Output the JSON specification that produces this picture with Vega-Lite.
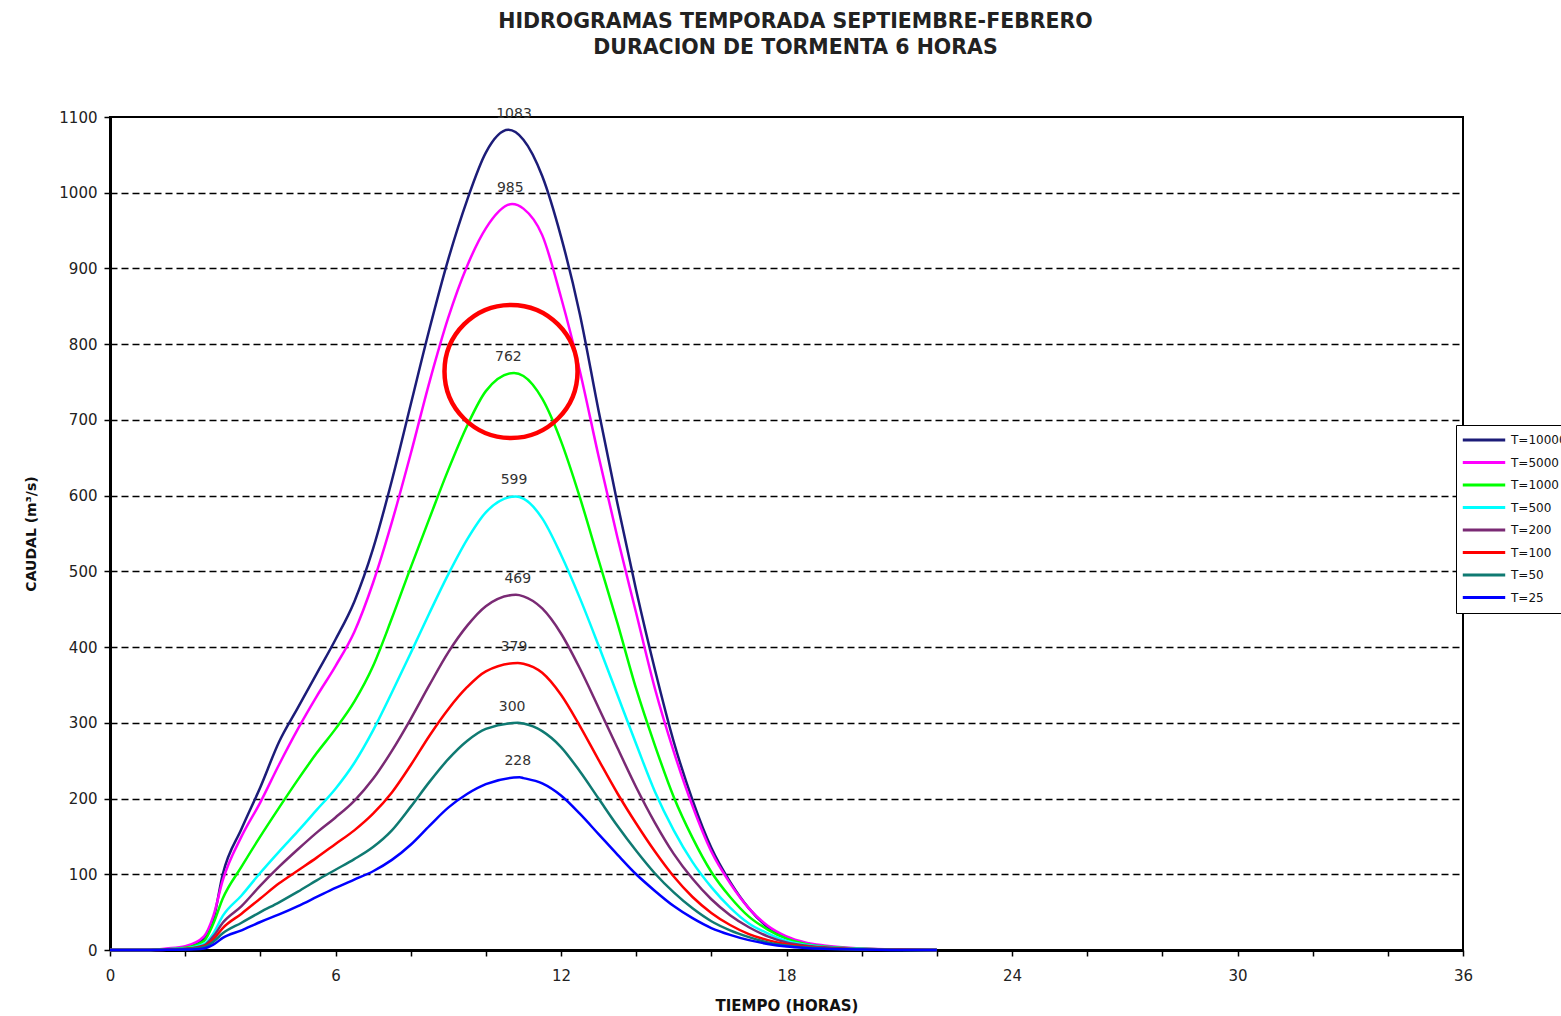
{
  "$schema": "https://vega.github.io/schema/vega-lite/v6.json",
  "autosize": "none",
  "width": 1353,
  "height": 833,
  "padding": {"left": 110, "top": 117, "right": 98, "bottom": 66},
  "background": "white",
  "title": {
    "text": ["HIDROGRAMAS TEMPORADA SEPTIEMBRE-FEBRERO", "DURACION DE TORMENTA 6 HORAS"],
    "font": "DejaVu Sans",
    "fontSize": 20.5,
    "fontWeight": "bold",
    "color": "#222222",
    "lineHeight": 26,
    "anchor": "middle",
    "dx": 9,
    "offset": 48
  },
  "config": {
    "view": {"stroke": "black", "strokeWidth": 2},
    "font": "DejaVu Sans"
  },
  "datasets": {
    "curves": [
      {"s":"T=10000","t":0,"q":0},{"s":"T=10000","t":1,"q":0},{"s":"T=10000","t":1.5,"q":1},{"s":"T=10000","t":2,"q":3},{"s":"T=10000","t":2.5,"q":15},{"s":"T=10000","t":2.75,"q":40},{"s":"T=10000","t":3,"q":100},{"s":"T=10000","t":3.5,"q":160},{"s":"T=10000","t":4,"q":215},{"s":"T=10000","t":4.5,"q":275},{"s":"T=10000","t":5,"q":320},{"s":"T=10000","t":5.5,"q":365},{"s":"T=10000","t":6,"q":410},{"s":"T=10000","t":6.5,"q":460},{"s":"T=10000","t":7,"q":530},{"s":"T=10000","t":7.5,"q":620},{"s":"T=10000","t":8,"q":720},{"s":"T=10000","t":8.5,"q":820},{"s":"T=10000","t":9,"q":912},{"s":"T=10000","t":9.5,"q":990},{"s":"T=10000","t":10,"q":1053},{"s":"T=10000","t":10.6,"q":1083},{"s":"T=10000","t":11,"q":1070},{"s":"T=10000","t":11.5,"q":1022},{"s":"T=10000","t":12,"q":942},{"s":"T=10000","t":12.5,"q":840},{"s":"T=10000","t":13,"q":712},{"s":"T=10000","t":13.5,"q":590},{"s":"T=10000","t":14,"q":475},{"s":"T=10000","t":14.5,"q":370},{"s":"T=10000","t":15,"q":275},{"s":"T=10000","t":15.5,"q":198},{"s":"T=10000","t":16,"q":135},{"s":"T=10000","t":16.5,"q":90},{"s":"T=10000","t":17,"q":55},{"s":"T=10000","t":17.5,"q":30},{"s":"T=10000","t":18,"q":16},{"s":"T=10000","t":18.5,"q":9},{"s":"T=10000","t":19,"q":5},{"s":"T=10000","t":20,"q":1.5},{"s":"T=10000","t":21,"q":0.3},{"s":"T=10000","t":22,"q":0},

      {"s":"T=5000","t":0,"q":0},{"s":"T=5000","t":1,"q":0},{"s":"T=5000","t":1.5,"q":2},{"s":"T=5000","t":2,"q":5},{"s":"T=5000","t":2.5,"q":18},{"s":"T=5000","t":2.75,"q":45},{"s":"T=5000","t":3,"q":92},{"s":"T=5000","t":3.5,"q":150},{"s":"T=5000","t":4,"q":195},{"s":"T=5000","t":4.5,"q":245},{"s":"T=5000","t":5,"q":292},{"s":"T=5000","t":5.5,"q":335},{"s":"T=5000","t":6,"q":375},{"s":"T=5000","t":6.5,"q":420},{"s":"T=5000","t":7,"q":485},{"s":"T=5000","t":7.5,"q":565},{"s":"T=5000","t":8,"q":655},{"s":"T=5000","t":8.5,"q":750},{"s":"T=5000","t":9,"q":835},{"s":"T=5000","t":9.5,"q":903},{"s":"T=5000","t":10,"q":953},{"s":"T=5000","t":10.7,"q":985},{"s":"T=5000","t":11,"q":979},{"s":"T=5000","t":11.5,"q":944},{"s":"T=5000","t":12,"q":862},{"s":"T=5000","t":12.5,"q":765},{"s":"T=5000","t":13,"q":652},{"s":"T=5000","t":13.5,"q":545},{"s":"T=5000","t":14,"q":445},{"s":"T=5000","t":14.5,"q":345},{"s":"T=5000","t":15,"q":262},{"s":"T=5000","t":15.5,"q":190},{"s":"T=5000","t":16,"q":130},{"s":"T=5000","t":16.5,"q":88},{"s":"T=5000","t":17,"q":55},{"s":"T=5000","t":17.5,"q":32},{"s":"T=5000","t":18,"q":18},{"s":"T=5000","t":18.5,"q":10},{"s":"T=5000","t":19,"q":6},{"s":"T=5000","t":20,"q":2},{"s":"T=5000","t":21,"q":0.5},{"s":"T=5000","t":22,"q":0},

      {"s":"T=1000","t":0,"q":0},{"s":"T=1000","t":1,"q":0},{"s":"T=1000","t":1.5,"q":1},{"s":"T=1000","t":2,"q":3},{"s":"T=1000","t":2.5,"q":12},{"s":"T=1000","t":2.75,"q":35},{"s":"T=1000","t":3,"q":68},{"s":"T=1000","t":3.5,"q":110},{"s":"T=1000","t":4,"q":150},{"s":"T=1000","t":4.5,"q":188},{"s":"T=1000","t":5,"q":225},{"s":"T=1000","t":5.5,"q":260},{"s":"T=1000","t":6,"q":292},{"s":"T=1000","t":6.5,"q":328},{"s":"T=1000","t":7,"q":375},{"s":"T=1000","t":7.5,"q":438},{"s":"T=1000","t":8,"q":505},{"s":"T=1000","t":8.5,"q":570},{"s":"T=1000","t":9,"q":634},{"s":"T=1000","t":9.5,"q":692},{"s":"T=1000","t":10,"q":738},{"s":"T=1000","t":10.75,"q":762},{"s":"T=1000","t":11,"q":758},{"s":"T=1000","t":11.5,"q":728},{"s":"T=1000","t":12,"q":672},{"s":"T=1000","t":12.5,"q":598},{"s":"T=1000","t":13,"q":515},{"s":"T=1000","t":13.5,"q":432},{"s":"T=1000","t":14,"q":345},{"s":"T=1000","t":14.5,"q":270},{"s":"T=1000","t":15,"q":202},{"s":"T=1000","t":15.5,"q":148},{"s":"T=1000","t":16,"q":103},{"s":"T=1000","t":16.5,"q":70},{"s":"T=1000","t":17,"q":44},{"s":"T=1000","t":17.5,"q":27},{"s":"T=1000","t":18,"q":15},{"s":"T=1000","t":18.5,"q":8},{"s":"T=1000","t":19,"q":4.5},{"s":"T=1000","t":20,"q":1.5},{"s":"T=1000","t":21,"q":0.3},{"s":"T=1000","t":22,"q":0},

      {"s":"T=500","t":0,"q":0},{"s":"T=500","t":1,"q":0},{"s":"T=500","t":1.5,"q":1},{"s":"T=500","t":2,"q":2},{"s":"T=500","t":2.5,"q":8},{"s":"T=500","t":2.75,"q":22},{"s":"T=500","t":3,"q":45},{"s":"T=500","t":3.5,"q":72},{"s":"T=500","t":4,"q":102},{"s":"T=500","t":4.5,"q":130},{"s":"T=500","t":5,"q":157},{"s":"T=500","t":5.5,"q":185},{"s":"T=500","t":6,"q":213},{"s":"T=500","t":6.5,"q":247},{"s":"T=500","t":7,"q":290},{"s":"T=500","t":7.5,"q":340},{"s":"T=500","t":8,"q":392},{"s":"T=500","t":8.5,"q":445},{"s":"T=500","t":9,"q":496},{"s":"T=500","t":9.5,"q":542},{"s":"T=500","t":10,"q":578},{"s":"T=500","t":10.8,"q":599},{"s":"T=500","t":11,"q":596},{"s":"T=500","t":11.5,"q":570},{"s":"T=500","t":12,"q":522},{"s":"T=500","t":12.5,"q":465},{"s":"T=500","t":13,"q":402},{"s":"T=500","t":13.5,"q":337},{"s":"T=500","t":14,"q":272},{"s":"T=500","t":14.5,"q":209},{"s":"T=500","t":15,"q":158},{"s":"T=500","t":15.5,"q":116},{"s":"T=500","t":16,"q":83},{"s":"T=500","t":16.5,"q":56},{"s":"T=500","t":17,"q":35},{"s":"T=500","t":17.5,"q":22},{"s":"T=500","t":18,"q":12},{"s":"T=500","t":18.5,"q":7},{"s":"T=500","t":19,"q":4},{"s":"T=500","t":20,"q":1.3},{"s":"T=500","t":21,"q":0.3},{"s":"T=500","t":22,"q":0},

      {"s":"T=200","t":0,"q":0},{"s":"T=200","t":1,"q":0},{"s":"T=200","t":1.5,"q":0.5},{"s":"T=200","t":2,"q":1.5},{"s":"T=200","t":2.5,"q":6},{"s":"T=200","t":2.75,"q":18},{"s":"T=200","t":3,"q":36},{"s":"T=200","t":3.5,"q":58},{"s":"T=200","t":4,"q":85},{"s":"T=200","t":4.5,"q":110},{"s":"T=200","t":5,"q":133},{"s":"T=200","t":5.5,"q":155},{"s":"T=200","t":6,"q":175},{"s":"T=200","t":6.5,"q":197},{"s":"T=200","t":7,"q":226},{"s":"T=200","t":7.5,"q":263},{"s":"T=200","t":8,"q":305},{"s":"T=200","t":8.5,"q":350},{"s":"T=200","t":9,"q":393},{"s":"T=200","t":9.5,"q":428},{"s":"T=200","t":10,"q":454},{"s":"T=200","t":10.8,"q":469},{"s":"T=200","t":11,"q":467},{"s":"T=200","t":11.5,"q":451},{"s":"T=200","t":12,"q":418},{"s":"T=200","t":12.5,"q":372},{"s":"T=200","t":13,"q":320},{"s":"T=200","t":13.5,"q":267},{"s":"T=200","t":14,"q":215},{"s":"T=200","t":14.5,"q":168},{"s":"T=200","t":15,"q":127},{"s":"T=200","t":15.5,"q":94},{"s":"T=200","t":16,"q":67},{"s":"T=200","t":16.5,"q":46},{"s":"T=200","t":17,"q":30},{"s":"T=200","t":17.5,"q":18},{"s":"T=200","t":18,"q":10},{"s":"T=200","t":18.5,"q":6},{"s":"T=200","t":19,"q":3.5},{"s":"T=200","t":20,"q":1},{"s":"T=200","t":21,"q":0.2},{"s":"T=200","t":22,"q":0},

      {"s":"T=100","t":0,"q":0},{"s":"T=100","t":1,"q":0},{"s":"T=100","t":1.5,"q":0.4},{"s":"T=100","t":2,"q":1.2},{"s":"T=100","t":2.5,"q":5},{"s":"T=100","t":2.75,"q":14},{"s":"T=100","t":3,"q":29},{"s":"T=100","t":3.5,"q":48},{"s":"T=100","t":4,"q":68},{"s":"T=100","t":4.5,"q":88},{"s":"T=100","t":5,"q":105},{"s":"T=100","t":5.5,"q":122},{"s":"T=100","t":6,"q":140},{"s":"T=100","t":6.5,"q":158},{"s":"T=100","t":7,"q":180},{"s":"T=100","t":7.5,"q":208},{"s":"T=100","t":8,"q":244},{"s":"T=100","t":8.5,"q":283},{"s":"T=100","t":9,"q":318},{"s":"T=100","t":9.5,"q":347},{"s":"T=100","t":10,"q":368},{"s":"T=100","t":10.85,"q":379},{"s":"T=100","t":11,"q":378},{"s":"T=100","t":11.5,"q":366},{"s":"T=100","t":12,"q":337},{"s":"T=100","t":12.5,"q":296},{"s":"T=100","t":13,"q":251},{"s":"T=100","t":13.5,"q":207},{"s":"T=100","t":14,"q":167},{"s":"T=100","t":14.5,"q":130},{"s":"T=100","t":15,"q":97},{"s":"T=100","t":15.5,"q":70},{"s":"T=100","t":16,"q":49},{"s":"T=100","t":16.5,"q":33},{"s":"T=100","t":17,"q":21},{"s":"T=100","t":17.5,"q":13},{"s":"T=100","t":18,"q":7.5},{"s":"T=100","t":18.5,"q":4.5},{"s":"T=100","t":19,"q":2.5},{"s":"T=100","t":20,"q":0.8},{"s":"T=100","t":21,"q":0.2},{"s":"T=100","t":22,"q":0},

      {"s":"T=50","t":0,"q":0},{"s":"T=50","t":1,"q":0},{"s":"T=50","t":1.5,"q":0.3},{"s":"T=50","t":2,"q":1},{"s":"T=50","t":2.5,"q":4},{"s":"T=50","t":2.75,"q":11},{"s":"T=50","t":3,"q":22},{"s":"T=50","t":3.5,"q":36},{"s":"T=50","t":4,"q":50},{"s":"T=50","t":4.5,"q":63},{"s":"T=50","t":5,"q":77},{"s":"T=50","t":5.5,"q":92},{"s":"T=50","t":6,"q":106},{"s":"T=50","t":6.5,"q":120},{"s":"T=50","t":7,"q":136},{"s":"T=50","t":7.5,"q":158},{"s":"T=50","t":8,"q":189},{"s":"T=50","t":8.5,"q":222},{"s":"T=50","t":9,"q":252},{"s":"T=50","t":9.5,"q":276},{"s":"T=50","t":10,"q":292},{"s":"T=50","t":10.85,"q":300},{"s":"T=50","t":11,"q":299},{"s":"T=50","t":11.5,"q":289},{"s":"T=50","t":12,"q":268},{"s":"T=50","t":12.5,"q":236},{"s":"T=50","t":13,"q":200},{"s":"T=50","t":13.5,"q":164},{"s":"T=50","t":14,"q":131},{"s":"T=50","t":14.5,"q":101},{"s":"T=50","t":15,"q":76},{"s":"T=50","t":15.5,"q":55},{"s":"T=50","t":16,"q":38},{"s":"T=50","t":16.5,"q":26},{"s":"T=50","t":17,"q":17},{"s":"T=50","t":17.5,"q":10},{"s":"T=50","t":18,"q":6},{"s":"T=50","t":18.5,"q":3.5},{"s":"T=50","t":19,"q":2},{"s":"T=50","t":20,"q":0.6},{"s":"T=50","t":21,"q":0.1},{"s":"T=50","t":22,"q":0},

      {"s":"T=25","t":0,"q":0},{"s":"T=25","t":1,"q":0},{"s":"T=25","t":1.5,"q":0.2},{"s":"T=25","t":2,"q":0.5},{"s":"T=25","t":2.5,"q":2},{"s":"T=25","t":2.75,"q":7},{"s":"T=25","t":3,"q":16},{"s":"T=25","t":3.5,"q":26},{"s":"T=25","t":4,"q":37},{"s":"T=25","t":4.5,"q":47},{"s":"T=25","t":5,"q":58},{"s":"T=25","t":5.5,"q":70},{"s":"T=25","t":6,"q":82},{"s":"T=25","t":6.5,"q":93},{"s":"T=25","t":7,"q":104},{"s":"T=25","t":7.5,"q":119},{"s":"T=25","t":8,"q":139},{"s":"T=25","t":8.5,"q":164},{"s":"T=25","t":9,"q":188},{"s":"T=25","t":9.5,"q":206},{"s":"T=25","t":10,"q":219},{"s":"T=25","t":10.9,"q":228},{"s":"T=25","t":11,"q":227},{"s":"T=25","t":11.5,"q":220},{"s":"T=25","t":12,"q":204},{"s":"T=25","t":12.5,"q":180},{"s":"T=25","t":13,"q":153},{"s":"T=25","t":13.5,"q":126},{"s":"T=25","t":14,"q":100},{"s":"T=25","t":14.5,"q":78},{"s":"T=25","t":15,"q":58},{"s":"T=25","t":15.5,"q":42},{"s":"T=25","t":16,"q":29},{"s":"T=25","t":16.5,"q":20},{"s":"T=25","t":17,"q":13},{"s":"T=25","t":17.5,"q":8},{"s":"T=25","t":18,"q":4.5},{"s":"T=25","t":18.5,"q":2.6},{"s":"T=25","t":19,"q":1.5},{"s":"T=25","t":20,"q":0.5},{"s":"T=25","t":21,"q":0.1},{"s":"T=25","t":22,"q":0}
    ],
    "peaks": [
      {"s":"T=10000","t":10.75,"q":1083},
      {"s":"T=5000","t":10.65,"q":985},
      {"s":"T=1000","t":10.6,"q":762},
      {"s":"T=500","t":10.75,"q":599},
      {"s":"T=200","t":10.85,"q":469},
      {"s":"T=100","t":10.75,"q":379},
      {"s":"T=50","t":10.7,"q":300},
      {"s":"T=25","t":10.85,"q":228}
    ],
    "highlight": [
      {"t":10.67,"q":764}
    ]
  },
  "layer": [
    {
      "data": {"name": "curves"},
      "mark": {"type": "line", "interpolate": "monotone", "strokeWidth": 2.5},
      "encoding": {
        "x": {
          "field": "t", "type": "quantitative",
          "scale": {"domain": [0, 36], "nice": false, "zero": false},
          "axis": {
            "title": "TIEMPO (HORAS)",
            "titleFont": "DejaVu Sans", "titleFontSize": 15, "titleFontWeight": "bold", "titleColor": "#111111", "titlePadding": 15,
            "values": [0,1,2,3,4,5,6,7,8,9,10,11,12,13,14,15,16,17,18,19,20,21,22,23,24,25,26,27,28,29,30,31,32,33,34,35,36],
            "labelExpr": "datum.value % 6 == 0 ? datum.label : ''",
            "labelOverlap": false,
            "labelFlush": false,
            "labelFont": "DejaVu Sans", "labelFontSize": 15, "labelColor": "#222222", "labelPadding": 12,
            "tickSize": 6, "tickColor": "black", "tickWidth": 1.5,
            "domainColor": "black", "domainWidth": 3,
            "grid": false
          }
        },
        "y": {
          "field": "q", "type": "quantitative",
          "scale": {"domain": [0, 1100], "nice": false},
          "axis": {
            "title": "CAUDAL (m³/s)",
            "titleFont": "DejaVu Sans", "titleFontSize": 14, "titleFontWeight": "bold", "titleColor": "#111111", "titlePadding": 20,
            "values": [0,25,50,75,100,125,150,175,200,225,250,275,300,325,350,375,400,425,450,475,500,525,550,575,600,625,650,675,700,725,750,775,800,825,850,875,900,925,950,975,1000,1025,1050,1075,1100],
            "labelExpr": "datum.value % 100 == 0 ? datum.label : ''",
            "labelOverlap": false,
            "labelFlush": false,
            "format": "d",
            "labelFont": "DejaVu Sans", "labelFontSize": 15, "labelColor": "#222222", "labelPadding": 7,
            "tickSize": 6, "tickColor": "black", "tickWidth": 1.5,
            "domainColor": "black", "domainWidth": 3,
            "grid": true,
            "gridColor": "black",
            "gridDash": [7, 4],
            "gridWidth": 1.3,
            "gridOpacity": {"condition": {"test": "datum.value % 100 == 0 && datum.value > 0 && datum.value < 1100", "value": 1}, "value": 0}
          }
        },
        "color": {
          "field": "s", "type": "nominal",
          "scale": {
            "domain": ["T=10000","T=5000","T=1000","T=500","T=200","T=100","T=50","T=25"],
            "range": ["#1c1c78","#ff00ff","#00ff00","#00ffff","#7a2a74","#ff0000","#0f7a72","#0000ff"]
          },
          "legend": {
            "title": null,
            "orient": "none",
            "legendX": 1346,
            "legendY": 308,
            "direction": "vertical",
            "fillColor": "white",
            "strokeColor": "black",
            "padding": 5,
            "symbolType": "stroke",
            "symbolSize": 1800,
            "symbolStrokeWidth": 3,
            "clipHeight": 20,
            "rowPadding": 2.5,
            "labelFont": "DejaVu Sans",
            "labelFontSize": 12,
            "labelColor": "#111111",
            "labelOffset": 4
          }
        }
      }
    },
    {
      "data": {"name": "peaks"},
      "mark": {"type": "text", "dy": -16, "font": "DejaVu Sans", "fontSize": 14, "color": "#333333", "baseline": "middle"},
      "encoding": {
        "x": {"field": "t", "type": "quantitative"},
        "y": {"field": "q", "type": "quantitative"},
        "text": {"field": "q", "type": "quantitative", "format": "d"}
      }
    },
    {
      "data": {"name": "highlight"},
      "mark": {"type": "point", "shape": "circle", "size": 17700, "filled": false, "stroke": "#ff0000", "strokeWidth": 4.5, "opacity": 1},
      "encoding": {
        "x": {"field": "t", "type": "quantitative"},
        "y": {"field": "q", "type": "quantitative"}
      }
    }
  ]
}
